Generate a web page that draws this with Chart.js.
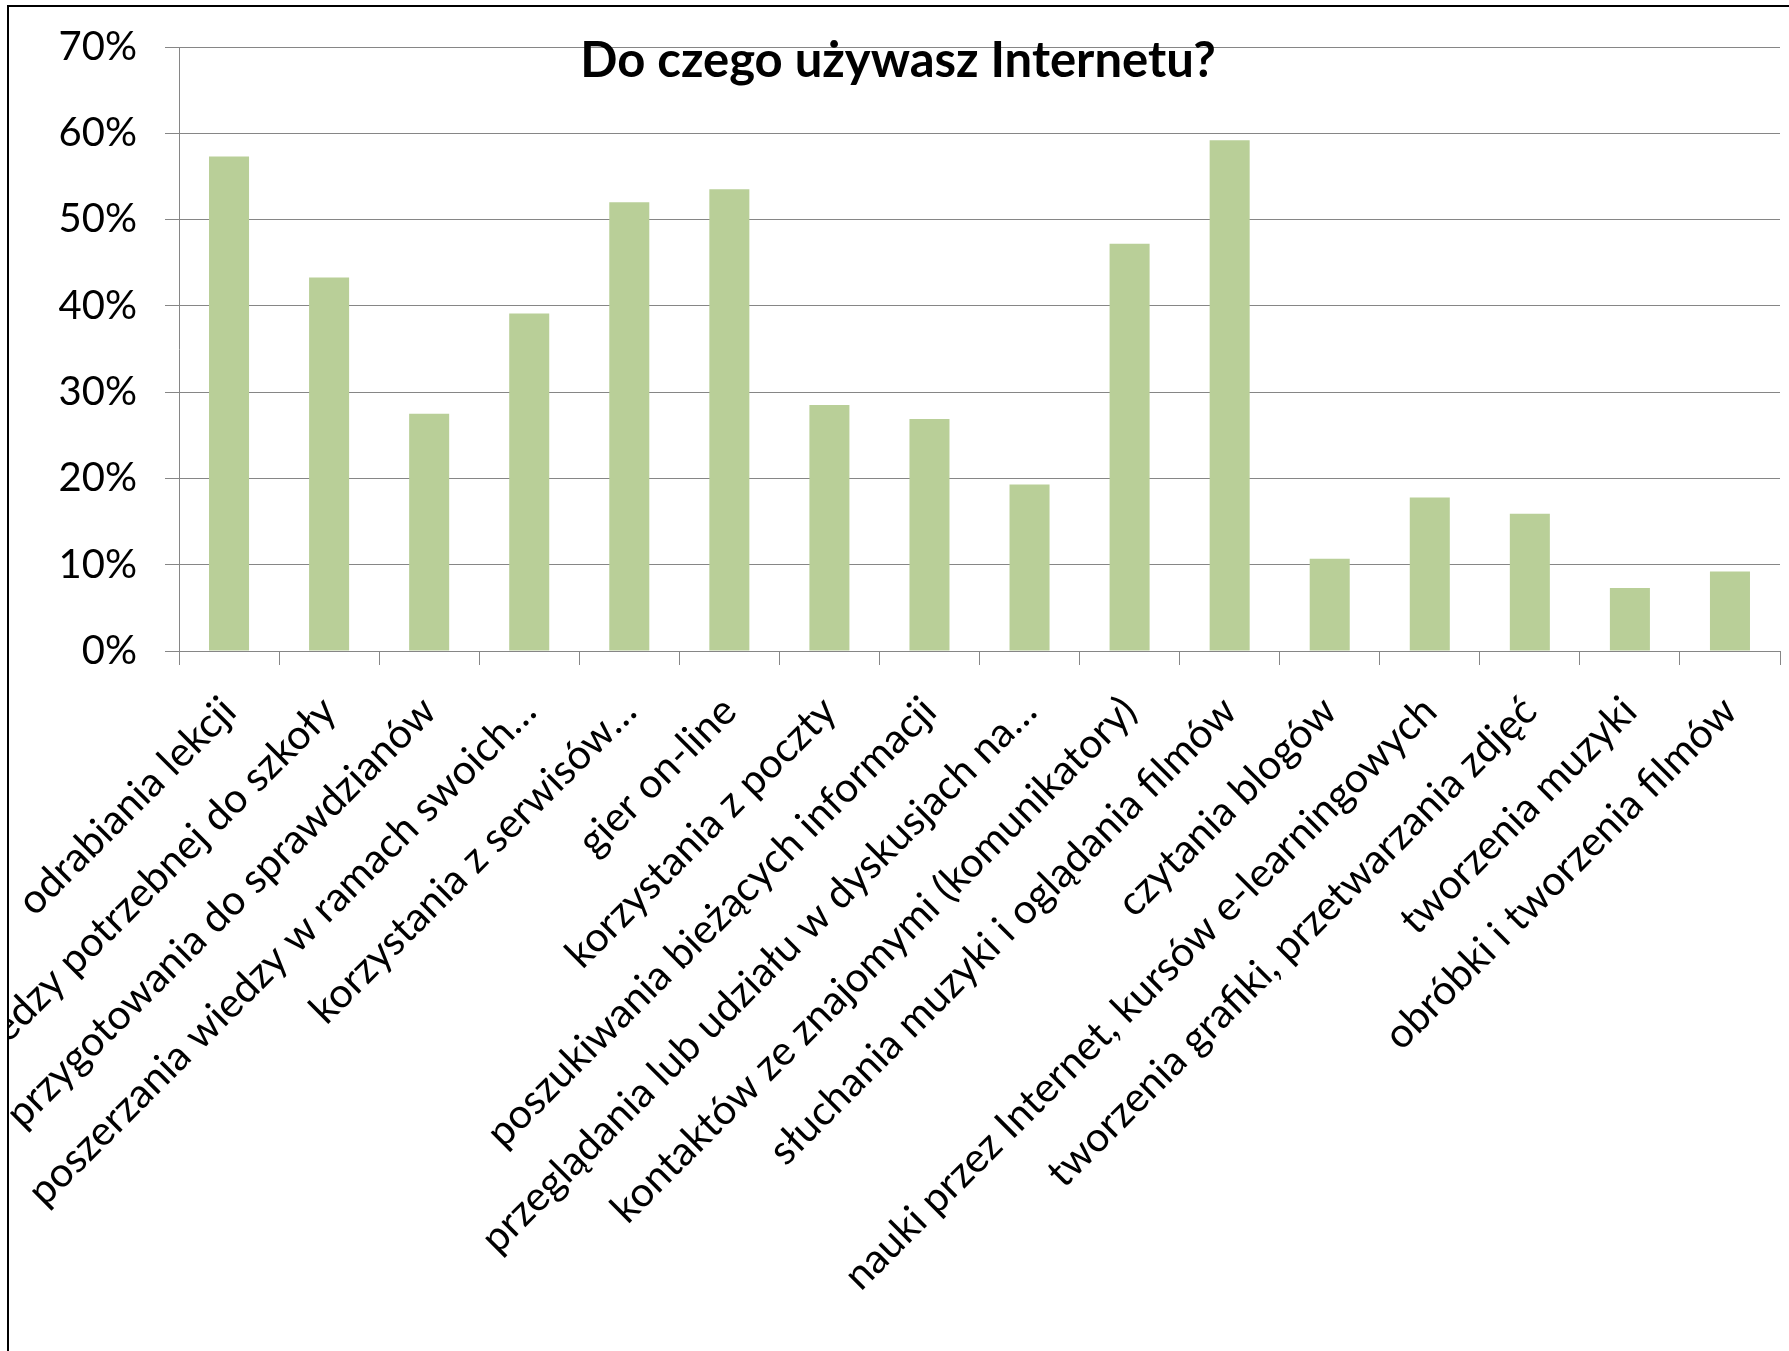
<!DOCTYPE html>
<html>
<head>
<meta charset="utf-8">
<title>Do czego używasz Internetu?</title>
<script src="https://cdn.jsdelivr.net/npm/chart.js@4/dist/chart.umd.min.js"></script>
<style>
  html, body { margin: 0; padding: 0; background: #fff; }
  #frame {
    position: absolute; left: 7px; top: 5px;
    width: 1782px; height: 1346px;
    border-left: 2px solid #000; border-top: 2px solid #000;
    overflow: hidden;
  }
  #chart { display: block; }
</style>
</head>
<body>
<div id="frame"><canvas id="chart" width="1780" height="1344"></canvas></div>
<script>
// dane wykresu
const title = 'Do czego używasz Internetu?';
const categories = [
  'odrabiania lekcji',
  'wiedzy potrzebnej do szkoły',
  'przygotowania do sprawdzianów',
  'poszerzania wiedzy w ramach swoich…',
  'korzystania z serwisów…',
  'gier on-line',
  'korzystania z poczty',
  'poszukiwania bieżących informacji',
  'przeglądania lub udziału w dyskusjach na…',
  'kontaktów ze znajomymi (komunikatory)',
  'słuchania muzyki i oglądania filmów',
  'czytania blogów',
  'nauki przez Internet, kursów e-learningowych',
  'tworzenia grafiki, przetwarzania zdjęć',
  'tworzenia muzyki',
  'obróbki i tworzenia filmów'
];
const values = [57.3, 43.3, 27.5, 39.1, 52.0, 53.5, 28.5, 26.9, 19.3, 47.2, 59.2, 10.7, 17.8, 15.9, 7.3, 9.2];
const yMin = 0;
const yMax = 70;
const yStep = 10;

const FONT = 'Lato';
const gridGray = '#868686';

// tytuł nachodzi na obszar wykresu, jak w Excelu
const overlayTitle = {
  id: 'overlayTitle',
  afterDraw(chart) {
    const ctx = chart.ctx;
    ctx.save();
    ctx.font = 'bold 49px ' + FONT;
    ctx.fillStyle = '#000';
    ctx.textAlign = 'center';
    ctx.textBaseline = 'middle';
    ctx.fillText(title, 889, 54);
    ctx.restore();
  }
};

new Chart(document.getElementById('chart'), {
  type: 'bar',
  data: {
    labels: categories,
    datasets: [{
      data: values,
      backgroundColor: '#b9cf98',
      borderWidth: 0,
      barPercentage: 0.4,
      categoryPercentage: 1
    }]
  },
  options: {
    responsive: false,
    animation: false,
    layout: { padding: { top: 40, right: 9, left: 0, bottom: 0 } },
    plugins: {
      legend: { display: false },
      title: { display: false },
      tooltip: { enabled: false }
    },
    scales: {
      x: {
        grid: {
          offset: true,
          drawOnChartArea: false,
          drawTicks: true,
          tickLength: 14,
          color: gridGray
        },
        border: { color: gridGray, width: 1 },
        ticks: {
          autoSkip: false,
          maxRotation: 45,
          minRotation: 45,
          padding: 22,
          color: '#000',
          font: { family: FONT, size: 41 }
        },
        afterFit(scale) {
          scale.height = 700;
          scale.paddingLeft = 0;
          scale.paddingRight = 0;
        }
      },
      y: {
        min: yMin,
        max: yMax,
        grid: {
          color: gridGray,
          tickLength: 14
        },
        border: { color: gridGray, width: 1 },
        ticks: {
          stepSize: yStep,
          padding: 28,
          color: '#000',
          font: { family: FONT, size: 40 },
          callback: v => v + '%'
        },
        afterFit(scale) {
          scale.width = 170;
          scale.paddingTop = 0;
          scale.paddingBottom = 0;
        }
      }
    }
  },
  plugins: [overlayTitle]
});
</script>
</body>
</html>
